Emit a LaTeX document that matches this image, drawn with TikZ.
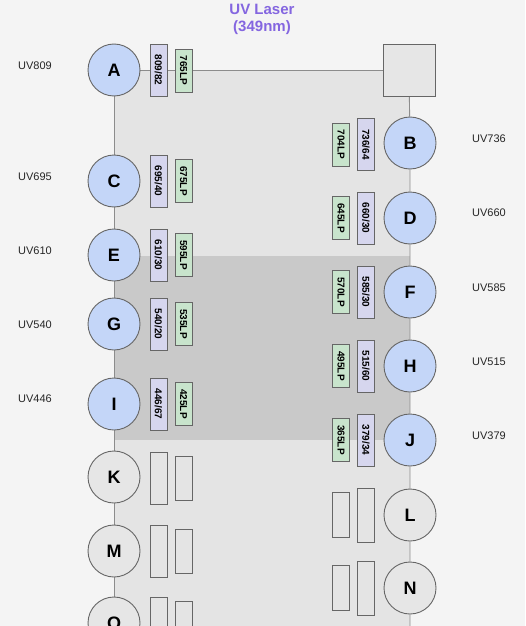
\documentclass[tikz,border=0pt]{standalone}
\usepackage{fontspec}
\setmainfont{Liberation Sans}
\usetikzlibrary{backgrounds}

\definecolor{pagegray}{HTML}{F4F4F4}
\definecolor{innergray}{HTML}{E4E4E4}
\definecolor{bandgray}{HTML}{C9C9C9}
\definecolor{linegray}{HTML}{666666}
\definecolor{wiregray}{HTML}{8C8C8C}
\definecolor{detblue}{HTML}{C4D6F8}
\definecolor{sparegray}{HTML}{E6E6E6}
\definecolor{bpblue}{HTML}{D6D6EE}
\definecolor{lpgreen}{HTML}{C8E4CC}
\definecolor{titlepurple}{HTML}{8466E0}

\begin{document}
\begin{tikzpicture}[x=1pt,y=-1pt,
det/.style={circle,draw=linegray,fill=detblue,line width=0.9pt,minimum size=52pt,inner sep=0pt,font=\fontsize{18}{18}\selectfont\bfseries},
spare/.style={det,fill=sparegray},
bp/.style={draw=linegray,fill=bpblue,line width=0.8pt,rotate=-90,minimum width=52pt,minimum height=17pt,inner sep=0pt,font=\fontsize{10}{11}\selectfont\bfseries},
lp/.style={bp,fill=lpgreen,minimum width=43pt},
sparebox/.style={bp,fill=innergray,minimum width=#1},
lab/.style={font=\fontsize{11}{12}\selectfont,text=black!85},
wire/.style={draw=wiregray,line width=0.9pt}]

\useasboundingbox (0,0) rectangle (525,626);

\begin{scope}[on background layer]
\fill[pagegray] (0,0) rectangle (525,626);
\fill[innergray] (114,70) rectangle (410,626);
\fill[bandgray] (114,256) rectangle (410,440);
\end{scope}

\node[font=\fontsize{15}{17}\selectfont\bfseries,text=titlepurple,align=center](title) at (262,19) {UV Laser\\(349nm)};

\node[draw=linegray,fill=sparegray,line width=0.9pt,minimum size=52pt,inner sep=0pt](laser) at (409,70) {};

% left column
\node[det](A) at (114,70) {A};
\node[det](C) at (114,181) {C};
\node[det](E) at (114,255) {E};
\node[det](G) at (114,324) {G};
\node[det](I) at (114,404) {I};
\node[spare](K) at (114,477) {K};
\node[spare](M) at (114,551) {M};
\node[spare](O) at (114,623) {O};

% right column
\node[det](B) at (410,143) {B};
\node[det](D) at (410,218) {D};
\node[det](F) at (410,292) {F};
\node[det](H) at (410,366) {H};
\node[det](J) at (410,440) {J};
\node[spare](L) at (410,515) {L};
\node[spare](N) at (410,588) {N};

% filters
\node[bp](bpA) at (158.5,70) {809/82};
\node[lp](lpA) at (183.5,70.5) {765LP};
\node[bp](bpC) at (158.5,181) {695/40};
\node[lp](lpC) at (183.5,181) {675LP};
\node[bp](bpE) at (158.5,255) {610/30};
\node[lp](lpE) at (183.5,255) {595LP};
\node[bp](bpG) at (158.5,324) {540/20};
\node[lp](lpG) at (183.5,324) {535LP};
\node[bp](bpI) at (158.5,404) {446/67};
\node[lp](lpI) at (183.5,404) {425LP};
\node[sparebox=52pt](bpK) at (158.5,478) {};
\node[sparebox=44pt](lpK) at (183.5,478) {};
\node[sparebox=52pt](bpM) at (158.5,551) {};
\node[sparebox=44pt](lpM) at (183.5,551) {};
\node[sparebox=52pt](bpO) at (158.5,623) {};
\node[sparebox=44pt](lpO) at (183.5,623) {};

\node[bp](bpB) at (366,144.5) {736/64};
\node[lp](lpB) at (341,144.5) {704LP};
\node[bp](bpD) at (366,218) {660/30};
\node[lp](lpD) at (341,218) {645LP};
\node[bp](bpF) at (366,292) {585/30};
\node[lp](lpF) at (341,292) {570LP};
\node[bp](bpH) at (366,366) {515/60};
\node[lp](lpH) at (341,366) {495LP};
\node[bp](bpJ) at (366,440) {379/34};
\node[lp](lpJ) at (341,440) {365LP};
\node[sparebox=54pt](bpL) at (366,515) {};
\node[sparebox=45pt](lpL) at (341,515) {};
\node[sparebox=54pt](bpN) at (366,588) {};
\node[sparebox=45pt](lpN) at (341,588) {};

% labels
\node[lab](labA) at (35,66) {UV809};
\node[lab](labC) at (35,177) {UV695};
\node[lab](labE) at (35,251) {UV610};
\node[lab](labG) at (35,325) {UV540};
\node[lab](labI) at (35,399) {UV446};
\node[lab](labB) at (489,139) {UV736};
\node[lab](labD) at (489,213) {UV660};
\node[lab](labF) at (489,288) {UV585};
\node[lab](labH) at (489,362) {UV515};
\node[lab](labJ) at (489,436) {UV379};

\coordinate (leftend) at (114,626);
\coordinate (rightend) at (410,626);

\begin{scope}[on background layer]
\draw[wire] (A) -- (laser);
\draw[wire] (A) -- (C) -- (E) -- (G) -- (I) -- (K) -- (M) -- (O) -- (leftend);
\draw[wire] (laser) -- (B) -- (D) -- (F) -- (H) -- (J) -- (L) -- (N) -- (rightend);
\end{scope}
\end{tikzpicture}
\end{document}
